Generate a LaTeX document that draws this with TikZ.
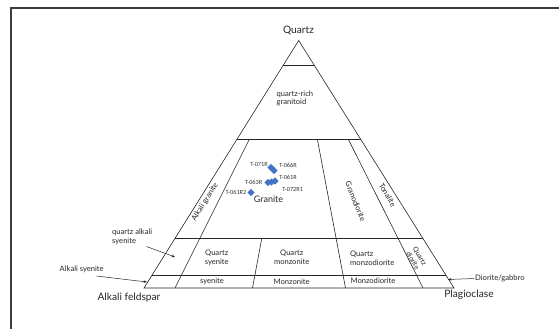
\documentclass[tikz,border=0pt]{standalone}
\usepackage{fontspec}
\setmainfont{Lato}
\newfontfamily\ptfont{Carlito}
\usetikzlibrary{calc,arrows.meta,shapes.geometric}
\definecolor{ptblue}{HTML}{4472C4}
\definecolor{framegray}{HTML}{3C3C3C}
\begin{document}
\begin{tikzpicture}[x=1pt,y=-1pt,
  fieldline/.style={line width=0.6pt, draw=black!85},
  lbl/.style={font=\fontsize{7.6}{8.8}\selectfont, inner sep=0pt, align=center, text=black!85},
  biglbl/.style={font=\fontsize{10.2}{11}\selectfont, inner sep=0pt, text=black!85},
  ptlbl/.style={font=\ptfont\fontsize{6.3}{7}\selectfont, inner sep=0pt, text=black!80},
  pt/.style={diamond, aspect=1, fill=ptblue, inner sep=0pt, minimum width=7.5pt, minimum height=7.5pt},
  arr/.style={-{Stealth[length=3.5pt,width=2.6pt]}, line width=0.5pt, black!85}]
\useasboundingbox (0,0) rectangle (559,329);
% partial frame
\draw[framegray, line width=1.3pt] (11,329) -- (11,8) -- (559,8);
% triangle corners
\coordinate (A) at (144,288);
\coordinate (P) at (454,288);
\coordinate (Q) at (298.7,40.5);
\coordinate (b10) at ($(A)!0.10!(P)$);
\coordinate (b35) at ($(A)!0.35!(P)$);
\coordinate (b65) at ($(A)!0.65!(P)$);
\coordinate (b90) at ($(A)!0.90!(P)$);
\draw[fieldline] (A) -- (P) -- (Q) -- cycle;
\foreach \q in {0.9,0.6,0.2,0.05}
  \draw[fieldline] ($(A)!\q!(Q)$) -- ($(P)!\q!(Q)$);
\draw[fieldline] (b10) -- ($(b10)!0.6!(Q)$);
\draw[fieldline] (b35) -- ($(b35)!0.2!(Q)$);
\draw[fieldline] (b65) -- ($(b65)!0.6!(Q)$);
\draw[fieldline] (b90) -- ($(b90)!0.6!(Q)$);
% corner labels
\node[biglbl] (lq) at (298.5,31) {Quartz};
\node[biglbl] (la) at (129,297.5) {Alkali feldspar};
\node[biglbl] (lp) at (469,294.5) {Plagioclase};
% field labels
\node[lbl, anchor=west, align=left] (qrg) at (276.5,98.3) {quartz-rich\\granitoid};
\node[lbl, rotate=58] (agr) at (205,202) {Alkali granite};
\node[biglbl, font=\fontsize{9}{10}\selectfont] (gra) at (268.5,199.3) {Granite};
\node[lbl, rotate=-68] (grd) at (355.5,201.5) {Granodiorite};
\node[lbl, rotate=-60] (ton) at (387.5,195) {Tonalite};
\node[lbl, anchor=west, align=left] (qas) at (112,236.5) {quartz alkali\\syenite};
\node[lbl] (qsy) at (216.7,257.5) {Quartz\\syenite};
\node[lbl] (qmz) at (291.7,257.5) {Quartz\\monzonite};
\node[lbl, anchor=west, align=left] (qmd) at (350,258.3) {Quartz\\monzodiorite};
\node[lbl, rotate=-60, font=\fontsize{6.8}{8}\selectfont] (qdi) at (416.5,258.5) {Quartz\\diorite};
\node[lbl] (asy) at (81.7,269) {Alkali syenite};
\node[lbl] (sye) at (212,281) {syenite};
\node[lbl] (mzn) at (291.7,281.5) {Monzonite};
\node[lbl] (mzd) at (373,280.5) {Monzodiorite};
\node[lbl, anchor=west] (dgb) at (475,278.5) {Diorite/gabbro};
% arrows
\coordinate (qas0) at (146.5,246.5);
\coordinate (qas1) at (175,257);
\coordinate (asy0) at (96.5,276);
\coordinate (asy1) at (147,282);
\coordinate (dgb1) at (448,279.5);
\draw[arr] (qas0) -- (qas1);
\draw[arr] (asy0) -- (asy1);
\draw[arr] ([xshift=-1pt]dgb.west) -- (dgb1);
% data points
\node[pt] (p071) at (271,167.5) {};
\node[pt] (p066) at (274,170.5) {};
\node[pt] (p063) at (268,182.5) {};
\node[pt] (p072) at (271.5,182) {};
\node[pt] (p061) at (275,181) {};
\node[pt] (p0612) at (251,192.5) {};
\node[ptlbl] (t071) at (259,164.5) {T-071R};
\node[ptlbl] (t066) at (288,165.7) {T-066R};
\node[ptlbl] (t061) at (288,177) {T-061R};
\node[ptlbl] (t063) at (253.5,182) {T-063R};
\node[ptlbl] (t072) at (292.7,189) {T-072R1};
\node[ptlbl] (t0612) at (236,192.7) {T-061R2};
\end{tikzpicture}
\end{document}
